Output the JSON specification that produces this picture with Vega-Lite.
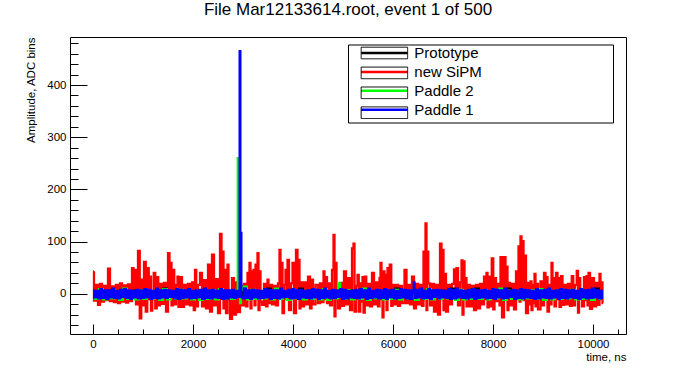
{
  "$schema": "https://vega.github.io/schema/vega-lite/v6.json",
  "width": 556,
  "height": 297,
  "autosize": {"type": "none"},
  "padding": {"left": 70, "top": 37, "right": 70, "bottom": 38},
  "background": "white",
  "config": {
    "font": "Liberation Sans",
    "view": {"stroke": "black", "strokeWidth": 1}
  },
  "title": {
    "text": "File Mar12133614.root, event 1 of 500",
    "font": "Liberation Sans",
    "fontSize": 17,
    "fontWeight": "normal",
    "color": "black",
    "anchor": "middle",
    "frame": "group",
    "offset": 18
  },
  "datasets": {
    "red": [
      {"t":0,"v":43},{"t":40,"v":-13},{"t":80,"v":17},{"t":120,"v":-21},{"t":160,"v":19},{"t":200,"v":-15},{"t":240,"v":15},{"t":280,"v":-12},{"t":320,"v":48},{"t":360,"v":-14},
      {"t":400,"v":14},{"t":440,"v":-16},{"t":480,"v":17},{"t":520,"v":-18},{"t":560,"v":20},{"t":600,"v":-15},{"t":640,"v":16},{"t":680,"v":-17},{"t":720,"v":18},{"t":760,"v":-14},
      {"t":800,"v":49},{"t":820,"v":-8},{"t":840,"v":46},{"t":880,"v":-20},{"t":920,"v":82},{"t":950,"v":-47},{"t":980,"v":27},{"t":1000,"v":-22},{"t":1040,"v":61},{"t":1070,"v":-34},
      {"t":1100,"v":49},{"t":1130,"v":-10},{"t":1150,"v":33},{"t":1170,"v":-32},{"t":1200,"v":-10},{"t":1230,"v":40},{"t":1260,"v":-28},{"t":1290,"v":32},{"t":1320,"v":-22},{"t":1360,"v":19},
      {"t":1400,"v":-19},{"t":1440,"v":21},{"t":1480,"v":-34},{"t":1520,"v":78},{"t":1540,"v":-5},{"t":1560,"v":59},{"t":1580,"v":-22},{"t":1610,"v":46},{"t":1640,"v":-20},{"t":1680,"v":17},
      {"t":1700,"v":33},{"t":1720,"v":-25},{"t":1760,"v":32},{"t":1800,"v":-25},{"t":1840,"v":17},{"t":1880,"v":-20},{"t":1920,"v":19},{"t":1960,"v":-22},{"t":2000,"v":22},{"t":2030,"v":-31},
      {"t":2050,"v":46},{"t":2080,"v":-24},{"t":2120,"v":17},{"t":2160,"v":40},{"t":2200,"v":-24},{"t":2240,"v":26},{"t":2280,"v":-28},{"t":2320,"v":56},{"t":2360,"v":-34},{"t":2400,"v":75},
      {"t":2440,"v":-22},{"t":2480,"v":28},{"t":2520,"v":-37},{"t":2560,"v":115},{"t":2580,"v":-5},{"t":2600,"v":81},{"t":2620,"v":-28},{"t":2640,"v":46},{"t":2680,"v":-37},{"t":2700,"v":56},
      {"t":2720,"v":-10},{"t":2760,"v":-48},{"t":2800,"v":30},{"t":2840,"v":-40},{"t":2880,"v":22},{"t":2920,"v":-35},{"t":2960,"v":15},{"t":3000,"v":-22},{"t":3040,"v":19},{"t":3080,"v":-24},
      {"t":3100,"v":40},{"t":3120,"v":-8},{"t":3140,"v":59},{"t":3160,"v":-28},{"t":3180,"v":43},{"t":3200,"v":-5},{"t":3220,"v":46},{"t":3240,"v":-22},{"t":3260,"v":56},{"t":3280,"v":-10},
      {"t":3300,"v":78},{"t":3320,"v":-31},{"t":3340,"v":43},{"t":3360,"v":-15},{"t":3400,"v":-21},{"t":3440,"v":19},{"t":3480,"v":-24},{"t":3500,"v":27},{"t":3520,"v":-18},{"t":3560,"v":17},
      {"t":3600,"v":-20},{"t":3640,"v":15},{"t":3680,"v":-22},{"t":3720,"v":20},{"t":3740,"v":84},{"t":3760,"v":-5},{"t":3780,"v":59},{"t":3800,"v":-37},{"t":3840,"v":17},{"t":3860,"v":46},
      {"t":3880,"v":-10},{"t":3900,"v":65},{"t":3940,"v":-31},{"t":3980,"v":20},{"t":4000,"v":59},{"t":4040,"v":-37},{"t":4080,"v":84},{"t":4100,"v":-8},{"t":4120,"v":65},{"t":4140,"v":-28},
      {"t":4160,"v":22},{"t":4200,"v":-24},{"t":4240,"v":22},{"t":4280,"v":-20},{"t":4320,"v":33},{"t":4360,"v":-28},{"t":4380,"v":27},{"t":4420,"v":-20},{"t":4480,"v":17},{"t":4520,"v":-18},
      {"t":4560,"v":20},{"t":4600,"v":-16},{"t":4620,"v":43},{"t":4640,"v":-10},{"t":4660,"v":32},{"t":4700,"v":-18},{"t":4720,"v":20},{"t":4760,"v":-22},{"t":4800,"v":46},{"t":4820,"v":113},
      {"t":4840,"v":-43},{"t":4860,"v":59},{"t":4880,"v":-10},{"t":4920,"v":-28},{"t":4960,"v":21},{"t":5000,"v":-23},{"t":5040,"v":43},{"t":5080,"v":-20},{"t":5120,"v":30},{"t":5160,"v":-31},
      {"t":5200,"v":87},{"t":5220,"v":96},{"t":5240,"v":-34},{"t":5280,"v":15},{"t":5300,"v":36},{"t":5330,"v":-34},{"t":5360,"v":20},{"t":5380,"v":-15},{"t":5400,"v":32},{"t":5420,"v":-36},
      {"t":5450,"v":33},{"t":5480,"v":-22},{"t":5520,"v":19},{"t":5560,"v":-24},{"t":5600,"v":40},{"t":5640,"v":-20},{"t":5680,"v":22},{"t":5720,"v":-24},{"t":5740,"v":30},{"t":5760,"v":59},
      {"t":5780,"v":-10},{"t":5800,"v":-45},{"t":5820,"v":43},{"t":5840,"v":-8},{"t":5860,"v":36},{"t":5880,"v":-31},{"t":5900,"v":49},{"t":5920,"v":-5},{"t":5950,"v":56},{"t":5980,"v":-23},
      {"t":6000,"v":17},{"t":6040,"v":-20},{"t":6080,"v":17},{"t":6120,"v":-23},{"t":6160,"v":15},{"t":6200,"v":-18},{"t":6260,"v":46},{"t":6280,"v":-18},{"t":6320,"v":17},{"t":6360,"v":-20},
      {"t":6400,"v":33},{"t":6440,"v":-28},{"t":6480,"v":19},{"t":6520,"v":-20},{"t":6560,"v":17},{"t":6600,"v":-23},{"t":6620,"v":81},{"t":6640,"v":-10},{"t":6660,"v":135},{"t":6680,"v":-31},
      {"t":6690,"v":81},{"t":6720,"v":20},{"t":6760,"v":-22},{"t":6800,"v":19},{"t":6840,"v":-34},{"t":6880,"v":17},{"t":6920,"v":-40},{"t":6960,"v":96},{"t":6980,"v":-10},{"t":7000,"v":84},
      {"t":7020,"v":-31},{"t":7040,"v":38},{"t":7080,"v":-34},{"t":7120,"v":17},{"t":7160,"v":-20},{"t":7200,"v":19},{"t":7240,"v":47},{"t":7260,"v":-10},{"t":7280,"v":49},{"t":7320,"v":-22},
      {"t":7360,"v":22},{"t":7380,"v":64},{"t":7400,"v":-40},{"t":7420,"v":62},{"t":7440,"v":-10},{"t":7460,"v":30},{"t":7480,"v":-24},{"t":7520,"v":17},{"t":7560,"v":-24},{"t":7600,"v":15},
      {"t":7640,"v":-31},{"t":7680,"v":17},{"t":7720,"v":-28},{"t":7760,"v":19},{"t":7800,"v":-20},{"t":7840,"v":33},{"t":7860,"v":-10},{"t":7880,"v":40},{"t":7900,"v":-26},{"t":7930,"v":33},
      {"t":7960,"v":-24},{"t":7990,"v":68},{"t":8020,"v":-30},{"t":8040,"v":30},{"t":8080,"v":-14},{"t":8120,"v":19},{"t":8140,"v":-22},{"t":8160,"v":70},{"t":8200,"v":-45},{"t":8240,"v":70},
      {"t":8260,"v":-10},{"t":8280,"v":52},{"t":8300,"v":-31},{"t":8320,"v":21},{"t":8360,"v":-22},{"t":8400,"v":19},{"t":8440,"v":-30},{"t":8480,"v":43},{"t":8500,"v":-10},{"t":8520,"v":91},
      {"t":8540,"v":-15},{"t":8560,"v":110},{"t":8580,"v":-8},{"t":8600,"v":101},{"t":8620,"v":-12},{"t":8640,"v":73},{"t":8680,"v":-37},{"t":8720,"v":21},{"t":8740,"v":-20},{"t":8760,"v":24},
      {"t":8780,"v":-31},{"t":8800,"v":17},{"t":8820,"v":-18},{"t":8840,"v":38},{"t":8860,"v":-24},{"t":8880,"v":19},{"t":8920,"v":-30},{"t":8980,"v":24},{"t":9000,"v":-22},{"t":9040,"v":40},
      {"t":9060,"v":-10},{"t":9080,"v":32},{"t":9100,"v":-34},{"t":9140,"v":17},{"t":9160,"v":-20},{"t":9180,"v":59},{"t":9200,"v":-10},{"t":9220,"v":30},{"t":9240,"v":-24},{"t":9280,"v":40},
      {"t":9300,"v":-10},{"t":9320,"v":30},{"t":9340,"v":-25},{"t":9380,"v":34},{"t":9400,"v":-21},{"t":9440,"v":17},{"t":9480,"v":-20},{"t":9520,"v":19},{"t":9560,"v":-23},{"t":9590,"v":34},
      {"t":9620,"v":-22},{"t":9660,"v":17},{"t":9690,"v":44},{"t":9710,"v":-36},{"t":9730,"v":30},{"t":9760,"v":-10},{"t":9800,"v":-24},{"t":9840,"v":32},{"t":9860,"v":-12},{"t":9880,"v":34},
      {"t":9900,"v":-22},{"t":9920,"v":40},{"t":9960,"v":-29},{"t":10000,"v":30},{"t":10040,"v":-24},{"t":10080,"v":21},{"t":10120,"v":-21},{"t":10140,"v":38},{"t":10160,"v":-10},{"t":10180,"v":22},
      {"t":10200,"v":-18}
    ],
    "black": [
      {"t":0,"v":5},{"t":80,"v":-5},{"t":160,"v":4},{"t":240,"v":-4},{"t":320,"v":6},{"t":400,"v":-6},{"t":480,"v":5},{"t":560,"v":-5},{"t":640,"v":3},{"t":720,"v":-3},
      {"t":800,"v":6},{"t":880,"v":-6},{"t":960,"v":4},{"t":1040,"v":-4},{"t":1120,"v":5},{"t":1200,"v":-5},{"t":1280,"v":6},{"t":1360,"v":-6},{"t":1440,"v":10},{"t":1520,"v":-4},
      {"t":1600,"v":4},{"t":1680,"v":-5},{"t":1760,"v":5},{"t":1840,"v":-3},{"t":1920,"v":6},{"t":2000,"v":-6},{"t":2080,"v":3},{"t":2160,"v":-5},{"t":2240,"v":5},{"t":2320,"v":-4},
      {"t":2400,"v":4},{"t":2480,"v":-6},{"t":2560,"v":6},{"t":2640,"v":-5},{"t":2720,"v":5},{"t":2800,"v":-3},{"t":2880,"v":4},{"t":2960,"v":-4},{"t":3040,"v":6},{"t":3120,"v":-6},
      {"t":3200,"v":5},{"t":3280,"v":-5},{"t":3360,"v":3},{"t":3440,"v":-4},{"t":3520,"v":10},{"t":3600,"v":-6},{"t":3680,"v":6},{"t":3760,"v":-3},{"t":3840,"v":4},{"t":3920,"v":-5},
      {"t":4000,"v":5},{"t":4080,"v":-4},{"t":4160,"v":10},{"t":4240,"v":-6},{"t":4320,"v":6},{"t":4400,"v":-5},{"t":4480,"v":4},{"t":4560,"v":-3},{"t":4640,"v":5},{"t":4720,"v":-6},
      {"t":4800,"v":3},{"t":4880,"v":-4},{"t":4960,"v":6},{"t":5040,"v":-5},{"t":5120,"v":5},{"t":5200,"v":-6},{"t":5280,"v":4},{"t":5360,"v":-4},{"t":5440,"v":6},{"t":5520,"v":-5},
      {"t":5600,"v":5},{"t":5680,"v":-3},{"t":5760,"v":4},{"t":5840,"v":-6},{"t":5920,"v":6},{"t":6000,"v":-5},{"t":6080,"v":10},{"t":6160,"v":-4},{"t":6240,"v":5},{"t":6320,"v":-6},
      {"t":6400,"v":3},{"t":6480,"v":-5},{"t":6560,"v":6},{"t":6640,"v":-3},{"t":6720,"v":4},{"t":6800,"v":-4},{"t":6880,"v":5},{"t":6960,"v":-6},{"t":7040,"v":6},{"t":7120,"v":-5},
      {"t":7200,"v":10},{"t":7280,"v":-4},{"t":7360,"v":4},{"t":7440,"v":-6},{"t":7520,"v":5},{"t":7600,"v":-3},{"t":7680,"v":10},{"t":7760,"v":-5},{"t":7840,"v":6},{"t":7920,"v":-4},
      {"t":8000,"v":3},{"t":8080,"v":-6},{"t":8160,"v":5},{"t":8240,"v":-5},{"t":8320,"v":10},{"t":8400,"v":-3},{"t":8480,"v":4},{"t":8560,"v":-6},{"t":8640,"v":6},{"t":8720,"v":-4},
      {"t":8800,"v":5},{"t":8880,"v":-5},{"t":8960,"v":4},{"t":9040,"v":-6},{"t":9120,"v":6},{"t":9200,"v":-4},{"t":9280,"v":3},{"t":9360,"v":-5},{"t":9440,"v":5},{"t":9520,"v":-3},
      {"t":9600,"v":6},{"t":9680,"v":-6},{"t":9760,"v":4},{"t":9840,"v":-5},{"t":9920,"v":5},{"t":10000,"v":-4},{"t":10080,"v":10},{"t":10160,"v":-6}
    ],
    "green": [
      {"t":0,"v":5},{"t":80,"v":-10},{"t":160,"v":9},{"t":240,"v":-11},{"t":320,"v":4},{"t":400,"v":-9},{"t":480,"v":6},{"t":560,"v":-12},{"t":640,"v":10},{"t":720,"v":-10},
      {"t":800,"v":5},{"t":880,"v":-11},{"t":960,"v":7},{"t":1040,"v":-10},{"t":1120,"v":4},{"t":1200,"v":-9},{"t":1280,"v":6},{"t":1360,"v":-12},{"t":1440,"v":9},{"t":1520,"v":-11},
      {"t":1600,"v":5},{"t":1680,"v":-10},{"t":1760,"v":8},{"t":1840,"v":-9},{"t":1920,"v":4},{"t":2000,"v":-11},{"t":2080,"v":6},{"t":2160,"v":-12},{"t":2240,"v":5},{"t":2320,"v":-10},
      {"t":2400,"v":7},{"t":2480,"v":-11},{"t":2560,"v":9},{"t":2640,"v":-9},{"t":2720,"v":4},{"t":2800,"v":-10},{"t":2880,"v":6},{"t":2905,"v":260},{"t":2925,"v":4},{"t":2950,"v":-18},
      {"t":2975,"v":8},{"t":3000,"v":14},{"t":3040,"v":14},{"t":3120,"v":-11},{"t":3200,"v":8},{"t":3280,"v":-10},{"t":3360,"v":4},{"t":3440,"v":-9},{"t":3520,"v":6},{"t":3600,"v":-11},
      {"t":3680,"v":10},{"t":3760,"v":-10},{"t":3840,"v":5},{"t":3920,"v":-12},{"t":4000,"v":7},{"t":4080,"v":-9},{"t":4160,"v":4},{"t":4240,"v":-11},{"t":4320,"v":6},{"t":4400,"v":-10},
      {"t":4480,"v":5},{"t":4560,"v":-11},{"t":4640,"v":9},{"t":4720,"v":-12},{"t":4800,"v":4},{"t":4880,"v":-9},{"t":4930,"v":20},{"t":4960,"v":6},{"t":5040,"v":-10},{"t":5120,"v":7},
      {"t":5200,"v":-11},{"t":5280,"v":5},{"t":5360,"v":-10},{"t":5440,"v":10},{"t":5520,"v":-12},{"t":5600,"v":4},{"t":5680,"v":-9},{"t":5760,"v":6},{"t":5840,"v":-11},{"t":5920,"v":5},
      {"t":6000,"v":-10},{"t":6080,"v":8},{"t":6160,"v":-11},{"t":6240,"v":4},{"t":6320,"v":-9},{"t":6400,"v":7},{"t":6480,"v":-12},{"t":6560,"v":5},{"t":6640,"v":-10},{"t":6720,"v":9},
      {"t":6800,"v":-11},{"t":6880,"v":6},{"t":6960,"v":-10},{"t":7040,"v":4},{"t":7120,"v":-9},{"t":7200,"v":5},{"t":7280,"v":-12},{"t":7360,"v":8},{"t":7440,"v":-11},{"t":7520,"v":6},
      {"t":7600,"v":-10},{"t":7680,"v":4},{"t":7760,"v":-10},{"t":7840,"v":7},{"t":7920,"v":-11},{"t":8000,"v":5},{"t":8080,"v":-9},{"t":8160,"v":10},{"t":8240,"v":-12},{"t":8320,"v":6},
      {"t":8400,"v":-10},{"t":8480,"v":4},{"t":8560,"v":-11},{"t":8640,"v":5},{"t":8720,"v":-9},{"t":8800,"v":7},{"t":8880,"v":-10},{"t":8960,"v":9},{"t":9040,"v":-12},{"t":9120,"v":4},
      {"t":9200,"v":-11},{"t":9280,"v":6},{"t":9360,"v":-10},{"t":9440,"v":5},{"t":9520,"v":-9},{"t":9600,"v":8},{"t":9680,"v":-11},{"t":9760,"v":4},{"t":9840,"v":-10},{"t":9920,"v":6},
      {"t":10000,"v":-12},{"t":10080,"v":5},{"t":10160,"v":-10}
    ],
    "blue": [
      {"t":0,"v":8},{"t":40,"v":-7},{"t":80,"v":6},{"t":120,"v":-9},{"t":160,"v":9},{"t":200,"v":-8},{"t":240,"v":7},{"t":280,"v":-10},{"t":320,"v":7},{"t":360,"v":-7},
      {"t":400,"v":10},{"t":440,"v":-8},{"t":480,"v":6},{"t":520,"v":-9},{"t":560,"v":8},{"t":600,"v":-6},{"t":640,"v":9},{"t":680,"v":-8},{"t":720,"v":7},{"t":760,"v":-10},
      {"t":800,"v":6},{"t":840,"v":-7},{"t":880,"v":8},{"t":920,"v":-9},{"t":960,"v":7},{"t":1000,"v":-8},{"t":1040,"v":9},{"t":1080,"v":-7},{"t":1120,"v":8},{"t":1160,"v":-10},
      {"t":1200,"v":6},{"t":1240,"v":-8},{"t":1280,"v":10},{"t":1320,"v":-9},{"t":1360,"v":7},{"t":1400,"v":-7},{"t":1440,"v":8},{"t":1480,"v":-8},{"t":1520,"v":7},{"t":1560,"v":-6},
      {"t":1600,"v":6},{"t":1640,"v":-9},{"t":1680,"v":9},{"t":1720,"v":-10},{"t":1760,"v":8},{"t":1800,"v":-8},{"t":1840,"v":7},{"t":1880,"v":-7},{"t":1920,"v":9},{"t":1960,"v":-9},
      {"t":2000,"v":6},{"t":2040,"v":-8},{"t":2080,"v":7},{"t":2120,"v":-7},{"t":2160,"v":8},{"t":2200,"v":-10},{"t":2240,"v":10},{"t":2280,"v":-8},{"t":2320,"v":7},{"t":2360,"v":-9},
      {"t":2400,"v":8},{"t":2440,"v":-7},{"t":2480,"v":6},{"t":2520,"v":-8},{"t":2560,"v":9},{"t":2600,"v":-10},{"t":2640,"v":7},{"t":2680,"v":-9},{"t":2720,"v":7},{"t":2760,"v":-7},
      {"t":2800,"v":8},{"t":2840,"v":-8},{"t":2880,"v":6},{"t":2920,"v":-6},{"t":2940,"v":465},{"t":2960,"v":117},{"t":2980,"v":-7},{"t":3000,"v":-9},{"t":3040,"v":10},{"t":3080,"v":-8},
      {"t":3120,"v":7},{"t":3160,"v":-10},{"t":3200,"v":8},{"t":3240,"v":-7},{"t":3280,"v":7},{"t":3320,"v":-9},{"t":3360,"v":6},{"t":3400,"v":-8},{"t":3440,"v":9},{"t":3480,"v":-7},
      {"t":3520,"v":8},{"t":3560,"v":-10},{"t":3600,"v":7},{"t":3640,"v":-8},{"t":3680,"v":7},{"t":3720,"v":-9},{"t":3760,"v":10},{"t":3800,"v":-7},{"t":3840,"v":6},{"t":3880,"v":-6},
      {"t":3920,"v":8},{"t":3960,"v":-9},{"t":4000,"v":9},{"t":4040,"v":-8},{"t":4080,"v":7},{"t":4120,"v":-10},{"t":4160,"v":8},{"t":4200,"v":-7},{"t":4240,"v":6},{"t":4280,"v":-8},
      {"t":4320,"v":7},{"t":4360,"v":-9},{"t":4400,"v":9},{"t":4440,"v":-7},{"t":4480,"v":8},{"t":4520,"v":-10},{"t":4560,"v":7},{"t":4600,"v":-8},{"t":4640,"v":10},{"t":4680,"v":-7},
      {"t":4720,"v":6},{"t":4760,"v":-9},{"t":4800,"v":8},{"t":4840,"v":-8},{"t":4880,"v":7},{"t":4920,"v":-6},{"t":4960,"v":9},{"t":5000,"v":-10},{"t":5040,"v":8},{"t":5080,"v":-9},
      {"t":5120,"v":6},{"t":5160,"v":-7},{"t":5200,"v":7},{"t":5240,"v":-8},{"t":5280,"v":8},{"t":5320,"v":-9},{"t":5360,"v":9},{"t":5400,"v":-7},{"t":5440,"v":7},{"t":5480,"v":-10},
      {"t":5520,"v":10},{"t":5560,"v":-8},{"t":5600,"v":6},{"t":5640,"v":-7},{"t":5680,"v":8},{"t":5720,"v":-9},{"t":5760,"v":7},{"t":5800,"v":-8},{"t":5840,"v":9},{"t":5880,"v":-10},
      {"t":5920,"v":7},{"t":5960,"v":-7},{"t":6000,"v":8},{"t":6040,"v":-9},{"t":6080,"v":6},{"t":6120,"v":-8},{"t":6160,"v":9},{"t":6200,"v":-7},{"t":6240,"v":8},{"t":6280,"v":-9},
      {"t":6320,"v":7},{"t":6360,"v":-10},{"t":6400,"v":7},{"t":6425,"v":22},{"t":6440,"v":-8},{"t":6480,"v":8},{"t":6520,"v":-7},{"t":6560,"v":10},{"t":6600,"v":-9},{"t":6640,"v":6},
      {"t":6680,"v":-8},{"t":6720,"v":9},{"t":6760,"v":-10},{"t":6800,"v":7},{"t":6840,"v":-6},{"t":6880,"v":8},{"t":6920,"v":-9},{"t":6960,"v":7},{"t":7000,"v":-7},{"t":7040,"v":6},
      {"t":7080,"v":-8},{"t":7120,"v":9},{"t":7160,"v":-10},{"t":7200,"v":8},{"t":7240,"v":-9},{"t":7280,"v":10},{"t":7320,"v":-7},{"t":7360,"v":7},{"t":7400,"v":-8},{"t":7440,"v":6},
      {"t":7480,"v":-9},{"t":7520,"v":8},{"t":7560,"v":-7},{"t":7600,"v":9},{"t":7640,"v":-10},{"t":7680,"v":7},{"t":7720,"v":-8},{"t":7760,"v":7},{"t":7800,"v":-7},{"t":7840,"v":8},
      {"t":7880,"v":-9},{"t":7920,"v":6},{"t":7960,"v":-8},{"t":8000,"v":9},{"t":8040,"v":-10},{"t":8080,"v":8},{"t":8120,"v":-7},{"t":8160,"v":7},{"t":8200,"v":-9},{"t":8240,"v":10},
      {"t":8280,"v":-8},{"t":8320,"v":6},{"t":8360,"v":-6},{"t":8400,"v":8},{"t":8440,"v":-10},{"t":8480,"v":7},{"t":8520,"v":-8},{"t":8560,"v":9},{"t":8600,"v":-9},{"t":8640,"v":8},
      {"t":8680,"v":-7},{"t":8720,"v":7},{"t":8760,"v":-8},{"t":8800,"v":6},{"t":8840,"v":-10},{"t":8880,"v":9},{"t":8920,"v":-9},{"t":8960,"v":7},{"t":9000,"v":-7},{"t":9040,"v":8},
      {"t":9080,"v":-8},{"t":9120,"v":10},{"t":9160,"v":-9},{"t":9200,"v":6},{"t":9240,"v":-7},{"t":9280,"v":7},{"t":9320,"v":-10},{"t":9360,"v":9},{"t":9400,"v":-8},{"t":9440,"v":8},
      {"t":9480,"v":-9},{"t":9520,"v":7},{"t":9560,"v":-7},{"t":9600,"v":8},{"t":9640,"v":-8},{"t":9680,"v":6},{"t":9720,"v":-10},{"t":9760,"v":9},{"t":9800,"v":-7},{"t":9840,"v":7},
      {"t":9880,"v":-9},{"t":9920,"v":8},{"t":9960,"v":-8},{"t":10000,"v":10},{"t":10040,"v":-7},{"t":10080,"v":7},{"t":10120,"v":-9},{"t":10160,"v":6},{"t":10200,"v":-8}
    ]
  },
  "encoding": {
    "x": {
      "field": "t",
      "type": "quantitative",
      "scale": {"domain": [-460, 10660], "nice": false, "zero": false},
      "axis": {
        "title": "time, ns",
        "values": [0,500,1000,1500,2000,2500,3000,3500,4000,4500,5000,5500,6000,6500,7000,7500,8000,8500,9000,9500,10000,10500],
        "format": "d",
        "labelExpr": "datum.value % 2000 === 0 ? datum.label : ''",
        "tickSize": {"condition": {"test": "datum.value % 2000 === 0", "value": -10}, "value": -5},
        "tickColor": "black",
        "tickWidth": 1,
        "domain": false,
        "grid": false,
        "labelFont": "Liberation Sans",
        "labelFontSize": 11.5,
        "labelColor": "black",
        "labelPadding": 14,
        "labelFlush": false,
        "labelOverlap": false,
        "titleFont": "Liberation Sans",
        "titleFontSize": 11.5,
        "titleFontWeight": "normal",
        "titleColor": "black",
        "titleAnchor": "end",
        "titlePadding": -3
      }
    },
    "y": {
      "field": "v",
      "type": "quantitative",
      "scale": {"domain": [-77, 492], "nice": false, "zero": false},
      "axis": {
        "title": "Amplitude, ADC bins",
        "values": [-60,-40,-20,0,20,40,60,80,100,120,140,160,180,200,220,240,260,280,300,320,340,360,380,400,420,440,460,480],
        "format": "d",
        "labelExpr": "datum.value % 100 === 0 ? datum.label : ''",
        "tickSize": {"condition": {"test": "datum.value % 100 === 0", "value": -17}, "value": -8},
        "tickColor": "black",
        "tickWidth": 1,
        "domain": false,
        "grid": false,
        "labelFont": "Liberation Sans",
        "labelFontSize": 11.5,
        "labelColor": "black",
        "labelPadding": 21,
        "labelFlush": false,
        "labelOverlap": false,
        "titleFont": "Liberation Sans",
        "titleFontSize": 11.5,
        "titleFontWeight": "normal",
        "titleColor": "black",
        "titleAnchor": "end",
        "titlePadding": 10
      }
    }
  },
  "layer": [
    {
      "data": {"name": "red"},
      "mark": {"type": "line", "interpolate": "step", "strokeWidth": 2.3},
      "encoding": {
        "color": {
          "datum": "new SiPM",
          "scale": {"domain": ["Prototype", "new SiPM", "Paddle 2", "Paddle 1"], "range": ["#000000", "#ff0000", "#00ff00", "#0000ff"]},
          "legend": {
            "orient": "none", "legendX": 278, "legendY": 7.5, "title": null,
            "symbolType": "M-4,0L4,0", "symbolSize": 135, "symbolStrokeWidth": 2.5, "symbolFillColor": "transparent",
            "labelFont": "Liberation Sans", "labelFontSize": 15, "labelColor": "black", "labelLimit": 400,
            "symbolOffset": 27.9, "labelOffset": 22.4, "rowPadding": 2.9, "padding": 1
          }
        },
        "strokeDash": {
          "datum": "new SiPM",
          "scale": {"range": [[1,0],[1,0],[1,0],[1,0]]},
          "legend": {
            "orient": "none", "legendX": 278, "legendY": 7.5, "title": null,
            "symbolType": "M-4,-1L4,-1L4,1L-4,1Z", "symbolSize": 135, "symbolStrokeWidth": 1, "symbolStrokeColor": "black", "symbolFillColor": "transparent",
            "labelFont": "Liberation Sans", "labelFontSize": 15, "labelColor": "transparent", "labelOpacity": 0, "labelLimit": 400,
            "labelExpr": "'MMMMMMMMMM'",
            "symbolOffset": 27.9, "labelOffset": 94.4, "rowPadding": 2.9, "padding": 1,
            "strokeColor": "black"
          }
        }
      }
    },
    {
      "data": {"name": "black"},
      "mark": {"type": "line", "interpolate": "step", "strokeWidth": 2},
      "encoding": {"color": {"datum": "Prototype"}, "strokeDash": {"datum": "Prototype"}}
    },
    {
      "data": {"name": "green"},
      "mark": {"type": "line", "interpolate": "step", "strokeWidth": 2},
      "encoding": {"color": {"datum": "Paddle 2"}, "strokeDash": {"datum": "Paddle 2"}}
    },
    {
      "data": {"name": "blue"},
      "mark": {"type": "line", "interpolate": "step", "strokeWidth": 2},
      "encoding": {"color": {"datum": "Paddle 1"}, "strokeDash": {"datum": "Paddle 1"}}
    }
  ]
}
